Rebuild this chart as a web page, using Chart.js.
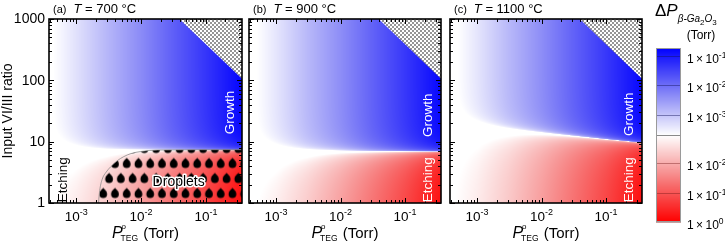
<!DOCTYPE html>
<html>
<head>
<meta charset="utf-8">
<script src="https://cdn.jsdelivr.net/npm/chart.js@4.4.1/dist/chart.umd.min.js"></script>
<style>
  body { margin: 0; background: #fff; width: 725px; height: 243px; overflow: hidden; position: relative; }
  canvas { position: absolute; top: 0; }
</style>
</head>
<body>
<canvas id="cA" width="246" height="243" style="left:0"></canvas>
<canvas id="cB" width="200" height="243" style="left:246px"></canvas>
<canvas id="cC" width="200" height="243" style="left:446px"></canvas>
<canvas id="cBar" width="79" height="243" style="left:646px"></canvas>
<script>
const FONT = '"Liberation Sans", Arial, Helvetica, sans-serif';

// axis ranges
const xRange = [3.8e-4, 0.36];
const yRange = [1, 1000];

// P_TEG columns (Torr) at which the maps were read
const pTeg = [4e-4, 1e-3, 3e-3, 1e-2, 3e-2, 1e-1, 3.6e-1];
// VI/III ratio where dP changes sign (growth above, etching below)
const boundary700  = [7.2, 7.2, 7.2, 7.3, 7.3, 7.3, 7.3];
const boundary900  = [7.6, 7.3, 7.1, 7.0, 6.9, 6.9, 6.9];
const boundary1100 = [19.3, 17.6, 15.7, 13.9, 12.4, 10.9, 9.6];
// |dP| far inside the growth zone (Torr)
const growth700  = [1.8e-4, 4.5e-4, 1.4e-3, 4.5e-3, 1.4e-2, 4.5e-2, 1.6e-1];
const growth900  = [1.6e-4, 4.0e-4, 1.3e-3, 4.2e-3, 1.3e-2, 4.2e-2, 1.5e-1];
const growth1100 = [1.6e-4, 4.0e-4, 1.3e-3, 4.2e-3, 1.3e-2, 4.2e-2, 1.5e-1];
// |dP| of etching at VI/III = 1 (Torr)
const etch700  = [1.2e-3, 2.2e-3, 5.5e-3, 1.8e-2, 5.5e-2, 0.19, 0.8];
const etch900  = [1.1e-3, 2.0e-3, 5.0e-3, 1.6e-2, 5.0e-2, 0.17, 0.75];
const etch1100 = [1.1e-3, 2.0e-3, 5.0e-3, 1.6e-2, 5.0e-2, 0.17, 0.75];

// hatched (excluded) corner
const limitP = [0.039, 0.36];
const limitRatio = [1000, 106];
// edge of droplet zone at 700 C
const dropP = [2.2e-3, 2.3e-3, 2.5e-3, 2.9e-3, 3.4e-3, 4.3e-3, 5.4e-3, 7e-3, 9.8e-3, 1.8e-2, 0.36];
const dropRatio = [1, 1.6, 2.4, 3.2, 3.9, 4.9, 5.7, 6.4, 6.9, 7.3, 7.4];

const xTicks = [1e-3, 1e-2, 1e-1];
const yTicks = [1, 10, 100, 1000];
const barGrowthTicks = [1e-1, 1e-2, 1e-3];
const barEtchTicks = [1e-2, 1e-1, 1e0];

// colour scale limits (log10 Torr)
const BLUE_LO = -3.7, BLUE_HI = -0.73;
const RED_LO = -2.95, RED_HI = 0;

function clamp01(v) { return v < 0 ? 0 : v > 1 ? 1 : v; }
function blueOf(d) {
  const f = clamp01((Math.log10(d) - BLUE_LO) / (BLUE_HI - BLUE_LO));
  const g = 255 * (1 - f);
  return [g, g, 255 - 8 * Math.sin(Math.PI * f)];
}
function redOf(d) {
  const f = clamp01((Math.log10(d) - RED_LO) / (RED_HI - RED_LO));
  const g = 255 * (1 - f);
  return [255 - 8 * Math.sin(Math.PI * f), g, g];
}
function logInterp(xs, ys, x) {
  const lx = Math.log10(x);
  if (x <= xs[0]) return ys[0];
  if (x >= xs[xs.length - 1]) return ys[ys.length - 1];
  for (let i = 0; i < xs.length - 1; i++) {
    const a = Math.log10(xs[i]), b = Math.log10(xs[i + 1]);
    if (lx <= b) {
      const t = (lx - a) / (b - a);
      return 10 ** (Math.log10(ys[i]) + t * (Math.log10(ys[i + 1]) - Math.log10(ys[i])));
    }
  }
  return ys[ys.length - 1];
}

function heatmapPlugin(bnd, gro, etc) {
  return {
    id: 'field',
    beforeDatasetsDraw(chart) {
      const { ctx, chartArea: a, scales: { x, y } } = chart;
      const w = Math.round(a.right - a.left), h = Math.round(a.bottom - a.top);
      const off = document.createElement('canvas');
      off.width = w; off.height = h;
      const octx = off.getContext('2d');
      const img = octx.createImageData(w, h);
      for (let i = 0; i < w; i++) {
        const P = x.getValueForPixel(a.left + i + 0.5);
        const rb = logInterp(pTeg, bnd, P), G = logInterp(pTeg, gro, P), E = logInterp(pTeg, etc, P);
        for (let j = 0; j < h; j++) {
          const r = y.getValueForPixel(a.top + j + 0.5);
          const s = Math.log10(r / rb);
          const c = s >= 0 ? blueOf(G * (1 - 10 ** (-3 * s))) : redOf(E * (1 - 10 ** s));
          const k = (j * w + i) * 4;
          img.data[k] = c[0]; img.data[k + 1] = c[1]; img.data[k + 2] = c[2]; img.data[k + 3] = 255;
        }
      }
      octx.putImageData(img, 0, 0);
      ctx.drawImage(off, a.left, a.top, w, h);
    }
  };
}

function rich(ctx, parts, x, y, align) {
  let total = 0;
  parts.forEach(p => {
    ctx.font = p.f;
    p.w = ctx.measureText(p.t).width;
    if (p.adv !== false) total += p.w + (p.gap || 0);
  });
  let cx = align === 'center' ? x - total / 2 : align === 'right' ? x - total : x;
  ctx.textAlign = 'left';
  ctx.textBaseline = 'alphabetic';
  parts.forEach(p => {
    ctx.font = p.f;
    ctx.fillText(p.t, cx + (p.dx || 0), y + (p.dy || 0));
    if (p.adv !== false) cx += p.w + (p.gap || 0);
  });
}

function vText(ctx, t, x, y, color, font) {
  ctx.save();
  ctx.translate(x, y);
  ctx.rotate(-Math.PI / 2);
  ctx.font = font;
  ctx.fillStyle = color;
  ctx.textAlign = 'center';
  ctx.textBaseline = 'middle';
  ctx.fillText(t, 0, 0);
  ctx.restore();
}

function drawFrameTicks(ctx, a, xs, ys) {
  ctx.save();
  ctx.strokeStyle = '#000';
  ctx.lineWidth = 1;
  ctx.beginPath();
  [[xs, true], [ys, false]].forEach(([sc, horiz]) => {
    const lo = Math.floor(Math.log10(sc.min)), hi = Math.ceil(Math.log10(sc.max));
    for (let e = lo; e <= hi; e++) {
      for (let m = 1; m <= 9; m++) {
        const v = m * 10 ** e;
        if (v < sc.min * 0.999 || v > sc.max * 1.001) continue;
        const p = Math.round(sc.getPixelForValue(v)) + 0.5;
        const len = m === 1 ? 5 : 3;
        if (horiz) {
          ctx.moveTo(p, a.bottom); ctx.lineTo(p, a.bottom - len);
          ctx.moveTo(p, a.top); ctx.lineTo(p, a.top + len);
        } else {
          ctx.moveTo(a.left, p); ctx.lineTo(a.left + len, p);
          ctx.moveTo(a.right, p); ctx.lineTo(a.right - len, p);
        }
      }
    }
  });
  ctx.stroke();
  ctx.lineWidth = 1.6;
  ctx.strokeRect(a.left, a.top, a.right - a.left, a.bottom - a.top);
  ctx.restore();
}

function decoPlugin(p) {
  return {
    id: 'deco',
    afterDraw(chart) {
      const { ctx, chartArea: a, scales: { x, y } } = chart;
      drawFrameTicks(ctx, a, x, y);
      ctx.save();
      ctx.fillStyle = '#000';
      xTicks.forEach(v => {
        const e = Math.round(Math.log10(v));
        rich(ctx, [{ t: '10', f: `13.5px ${FONT}` }, { t: String(e), f: `9px ${FONT}`, dy: -6 }],
          x.getPixelForValue(v), a.bottom + 18, 'center');
      });
      rich(ctx, [
        { t: 'P', f: `italic 16px ${FONT}` },
        { t: 'o', f: `8px ${FONT}`, dy: -9, dx: -1, adv: false },
        { t: 'TEG', f: `8.5px ${FONT}`, dy: 3, dx: -2, gap: -1 },
        { t: ' (Torr)', f: `15px ${FONT}` }
      ], (a.left + a.right) / 2, a.bottom + 35, 'center');
      if (p.yAxis) {
        ctx.font = `14px ${FONT}`;
        ctx.textAlign = 'right';
        ctx.textBaseline = 'middle';
        yTicks.forEach(v => ctx.fillText(String(v), a.left - 4, y.getPixelForValue(v) + 0.5));
        vText(ctx, 'Input VI/III ratio', 8, (a.top + a.bottom) / 2, '#000', `14px ${FONT}`);
      }
      ctx.fillStyle = '#000';
      rich(ctx, [
        { t: p.tag, f: `11px ${FONT}`, gap: 7 },
        { t: 'T', f: `italic 13px ${FONT}` },
        { t: ` = ${p.temp} \u00B0C`, f: `13px ${FONT}` }
      ], a.left + 4, a.top - 6, 'left');
      p.zones.forEach(z => {
        vText(ctx, z.t, x.getPixelForValue(z.P), y.getPixelForValue(z.r), z.c, `13.5px ${FONT}`);
      });
      if (p.dropLabel) {
        const d = p.dropLabel;
        ctx.font = `14px ${FONT}`;
        ctx.textAlign = 'center';
        ctx.textBaseline = 'middle';
        ctx.lineJoin = 'round';
        ctx.strokeStyle = '#fff';
        ctx.lineWidth = 3;
        const px = x.getPixelForValue(d.P), py = y.getPixelForValue(d.r);
        ctx.strokeText(d.t, px, py);
        ctx.fillStyle = '#000';
        ctx.fillText(d.t, px, py);
      }
      ctx.restore();
    }
  };
}

// fill patterns
function makeHatch() {
  const c = document.createElement('canvas');
  c.width = 4; c.height = 4;
  const g = c.getContext('2d');
  g.fillStyle = '#fff'; g.fillRect(0, 0, 4, 4);
  g.fillStyle = '#959595'; g.fillRect(0, 0, 2, 2); g.fillRect(2, 2, 2, 2);
  return g.createPattern(c, 'repeat');
}
function drop(g, cx, cy) {
  g.beginPath();
  g.moveTo(cx, cy - 5.2);
  g.bezierCurveTo(cx + 1.6, cy - 3.2, cx + 3.9, cy - 1.8, cx + 3.9, cy + 1);
  g.arc(cx, cy + 1, 3.9, 0, Math.PI);
  g.bezierCurveTo(cx - 3.9, cy - 1.8, cx - 1.6, cy - 3.2, cx, cy - 5.2);
  g.fill();
}
function makeDroplets() {
  const W = 47, H = 30, step = 11.75;
  const c = document.createElement('canvas');
  c.width = W; c.height = H;
  const g = c.getContext('2d');
  g.fillStyle = '#000';
  for (let k = -1; k <= 4; k++) {
    drop(g, 5.9 + k * step, 7.5);
    drop(g, 5.9 + step / 2 + k * step, 22.5);
  }
  const pat = g.createPattern(c, 'repeat');
  pat.setTransform(new DOMMatrix([1, 0, 0, 1, 120.8, 155.5]));
  return pat;
}
const hatch = makeHatch();
const droplets = makeDroplets();

function pts(xs, ys) { return xs.map((v, i) => ({ x: v, y: ys[i] })); }

const panels = [
  { id: 'cA', pad: { left: 49, right: 4, top: 19, bottom: 40 }, tag: '(a)', temp: '700', yAxis: true,
    bnd: boundary700, gro: growth700, etc: etch700,
    zones: [{ t: 'Growth', P: 0.24, r: 30, c: '#fff' }, { t: 'Etching', P: 6.3e-4, r: 2.4, c: '#000' }],
    dropLabel: { t: 'Droplets', P: 0.038, r: 2.2 } },
  { id: 'cB', pad: { left: 3, right: 5, top: 19, bottom: 40 }, tag: '(b)', temp: '900',
    bnd: boundary900, gro: growth900, etc: etch900,
    zones: [{ t: 'Growth', P: 0.23, r: 27, c: '#fff' }, { t: 'Etching', P: 0.23, r: 2.4, c: '#fff' }] },
  { id: 'cC', pad: { left: 4, right: 4, top: 19, bottom: 40 }, tag: '(c)', temp: '1100',
    bnd: boundary1100, gro: growth1100, etc: etch1100,
    zones: [{ t: 'Growth', P: 0.23, r: 28, c: '#fff' }, { t: 'Etching', P: 0.23, r: 2.4, c: '#fff' }] }
];

panels.forEach(p => {
  const datasets = [{
    data: pts(limitP, limitRatio),
    borderColor: 'rgba(0,0,0,0)', borderWidth: 0, pointRadius: 0,
    fill: 'end', backgroundColor: hatch
  }];
  if (p.dropLabel) {
    datasets.push({
      data: pts(dropP, dropRatio),
      borderColor: 'rgba(130,130,130,0.9)', borderWidth: 0.8, pointRadius: 0,
      cubicInterpolationMode: 'monotone',
      fill: 'start', backgroundColor: droplets
    });
  }
  new Chart(document.getElementById(p.id), {
    type: 'line',
    data: { datasets },
    options: {
      responsive: false,
      animation: false,
      events: [],
      layout: { padding: p.pad },
      plugins: { legend: { display: false }, tooltip: { enabled: false } },
      scales: {
        x: { type: 'logarithmic', min: xRange[0], max: xRange[1], display: false },
        y: { type: 'logarithmic', min: yRange[0], max: yRange[1], display: false }
      }
    },
    plugins: [heatmapPlugin(p.bnd, p.gro, p.etc), decoPlugin(p)]
  });
});

// colour bar: linear axis in decades, growth side up, etching side down
const barPlugin = {
  id: 'bar',
  afterDraw(chart) {
    const { ctx, chartArea: a, scales: { y } } = chart;
    ctx.save();
    for (let py = Math.floor(a.top); py < a.bottom; py++) {
      const w = y.getValueForPixel(py + 0.5);
      const c = w >= 0 ? blueOf(10 ** (w + BLUE_LO)) : redOf(10 ** (-w + RED_LO));
      ctx.fillStyle = `rgb(${c.map(Math.round).join(',')})`;
      ctx.fillRect(a.left, py, a.right - a.left, 1);
    }
    const marks = barGrowthTicks.map(v => ({ v, w: Math.log10(v) - BLUE_LO, col: 'rgba(20,20,90,0.45)' }))
      .concat(barEtchTicks.map(v => ({ v, w: -(Math.log10(v) - RED_LO), col: 'rgba(110,20,20,0.4)' })));
    ctx.lineWidth = 1;
    marks.forEach(m => {
      const py = Math.round(y.getPixelForValue(m.w)) + 0.5;
      ctx.strokeStyle = m.col;
      ctx.beginPath(); ctx.moveTo(a.left, py); ctx.lineTo(a.right, py); ctx.stroke();
      ctx.fillStyle = '#000';
      rich(ctx, [{ t: '1\u2009\u00D7\u200910', f: `12px ${FONT}` }, { t: String(Math.round(Math.log10(m.v))), f: `8.5px ${FONT}`, dy: -5 }],
        a.right + 6, py + 6, 'left');
    });
    const z = Math.round(y.getPixelForValue(0)) + 0.5;
    ctx.strokeStyle = '#8a8a8a';
    ctx.beginPath(); ctx.moveTo(a.left, z); ctx.lineTo(a.right, z); ctx.stroke();
    ctx.strokeStyle = '#9a9a9a';
    ctx.strokeRect(a.left + 0.5, a.top + 0.5, a.right - a.left - 1, a.bottom - a.top - 1);
    // title
    ctx.fillStyle = '#000';
    rich(ctx, [
      { t: '\u0394', f: `17px ${FONT}` },
      { t: 'P', f: `italic 17px ${FONT}`, gap: 0 },
      { t: '\u03B2-Ga', f: `italic 10px ${FONT}`, dy: 6 },
      { t: '2', f: `8px ${FONT}`, dy: 9 },
      { t: 'O', f: `italic 10px ${FONT}`, dy: 6 },
      { t: '3', f: `8px ${FONT}`, dy: 9 }
    ], a.left - 1, 16, 'left');
    rich(ctx, [{ t: '(Torr)', f: `12px ${FONT}` }], a.left + 45, 39, 'center');
    ctx.restore();
  }
};

new Chart(document.getElementById('cBar'), {
  type: 'line',
  data: { datasets: [] },
  options: {
    responsive: false,
    animation: false,
    events: [],
    layout: { padding: { left: 10, right: 44, top: 48, bottom: 21 } },
    plugins: { legend: { display: false }, tooltip: { enabled: false } },
    scales: {
      x: { type: 'linear', min: 0, max: 1, display: false },
      y: { type: 'linear', min: -(RED_HI - RED_LO), max: BLUE_HI - BLUE_LO, display: false }
    }
  },
  plugins: [barPlugin]
});
</script>
</body>
</html>
